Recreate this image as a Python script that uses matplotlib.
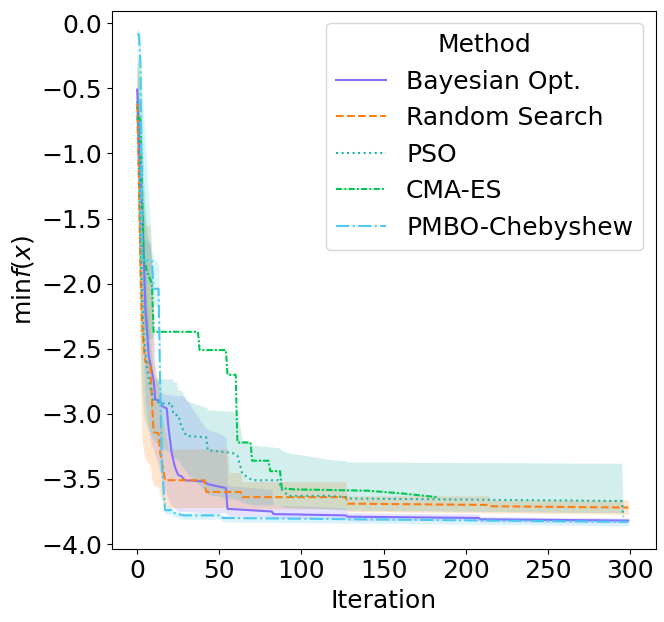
import matplotlib
matplotlib.use("Agg")
import matplotlib.pyplot as plt

# Values: iteration, mean best value and band edges
bo_iter = [0, 1, 2, 3, 4, 5, 6, 7, 8, 10, 11, 14, 15, 18, 19, 21, 23, 25, 27, 29,
           41, 43, 50, 54, 55, 82, 83, 127, 128, 208, 209, 299]
bo_mean = [-0.51, -0.85, -1.15, -1.45, -1.77, -2.20, -2.35, -2.55, -2.62, -2.74,
           -2.89, -2.90, -2.94, -2.96, -3.10, -3.30, -3.41, -3.47, -3.48, -3.51,
           -3.52, -3.54, -3.56, -3.57, -3.73, -3.75, -3.77, -3.78, -3.79, -3.80,
           -3.81, -3.82]
bo_lo = [-0.60, -1.20, -1.70, -2.20, -2.60, -2.90, -3.00, -3.10, -3.20, -3.28,
         -3.32, -3.45, -3.50, -3.62, -3.66, -3.70, -3.73, -3.75, -3.75, -3.75,
         -3.76, -3.76, -3.76, -3.76, -3.78, -3.79, -3.80, -3.81, -3.82, -3.82,
         -3.83, -3.84]
bo_hi = [-0.35, -0.55, -0.80, -1.10, -1.40, -1.65, -1.67, -1.68, -1.70, -2.30,
         -2.70, -2.80, -2.84, -2.85, -2.85, -2.86, -2.86, -2.86, -2.86, -2.87,
         -3.10, -3.12, -3.15, -3.18, -3.55, -3.58, -3.70, -3.72, -3.76, -3.77,
         -3.79, -3.80]

rs_iter = [0, 1, 2, 3, 4, 5, 8, 9, 10, 13, 14, 17, 19, 41, 42, 55, 56, 63, 64,
           127, 128, 214, 215, 299]
rs_mean = [-0.62, -1.20, -1.90, -2.30, -2.50, -2.60, -2.62, -2.90, -3.14, -3.15,
           -3.30, -3.51, -3.51, -3.51, -3.60, -3.60, -3.60, -3.60, -3.64, -3.64,
           -3.69, -3.70, -3.71, -3.72]
rs_lo = [-0.75, -1.90, -2.80, -3.20, -3.30, -3.35, -3.40, -3.50, -3.55, -3.56,
         -3.62, -3.70, -3.72, -3.72, -3.72, -3.72, -3.72, -3.73, -3.73, -3.73,
         -3.75, -3.76, -3.76, -3.77]
rs_hi = [-0.25, -0.60, -1.00, -1.30, -1.45, -1.55, -1.55, -1.90, -2.60, -2.75,
         -2.95, -3.15, -3.27, -3.27, -3.27, -3.27, -3.45, -3.45, -3.52, -3.52,
         -3.63, -3.63, -3.66, -3.66]

ps_iter = [0, 1, 2, 3, 4, 6, 8, 10, 14, 21, 22, 24, 25, 27, 30, 42, 43, 58, 61,
           64, 70, 86, 88, 92, 117, 127, 128, 295, 296]
ps_mean = [-0.60, -1.10, -1.70, -2.10, -2.40, -2.65, -2.80, -2.89, -2.92, -2.92,
           -3.00, -3.01, -3.01, -3.10, -3.17, -3.18, -3.28, -3.30, -3.32, -3.46,
           -3.51, -3.51, -3.58, -3.63, -3.63, -3.64, -3.65, -3.67, -3.79]
ps_lo = [-0.80, -1.80, -2.50, -2.80, -3.00, -3.10, -3.15, -3.20, -3.25, -3.30,
         -3.33, -3.35, -3.35, -3.40, -3.45, -3.60, -3.62, -3.65, -3.66, -3.68,
         -3.70, -3.70, -3.71, -3.72, -3.73, -3.74, -3.74, -3.76, -3.80]
ps_hi = [-0.15, -0.40, -0.90, -1.40, -1.80, -2.10, -2.45, -2.73, -2.73, -2.73,
         -2.75, -2.76, -2.82, -2.82, -2.90, -2.95, -2.97, -2.98, -3.00, -3.20,
         -3.24, -3.26, -3.28, -3.30, -3.35, -3.36, -3.37, -3.38, -3.78]

cm_iter = [0, 2, 3, 4, 5, 6, 9, 10, 37, 38, 54, 55, 60, 61, 69, 70, 80, 81, 87,
           88, 95, 140, 160, 183]
cm_mean = [-0.72, -0.74, -1.30, -1.82, -1.85, -1.91, -2.00, -2.37, -2.37, -2.51,
           -2.51, -2.70, -2.70, -3.22, -3.22, -3.36, -3.36, -3.44, -3.44, -3.57,
           -3.58, -3.59, -3.61, -3.64]
cm_lo = [-0.90, -1.20, -2.00, -2.35, -2.40, -2.42, -2.42, -2.375, -2.375, -2.515,
         -2.515, -2.705, -2.705, -3.225, -3.225, -3.365, -3.365, -3.445, -3.445,
         -3.575, -3.585, -3.595, -3.615, -3.645]
cm_hi = [-0.25, -0.35, -0.70, -1.20, -1.40, -1.60, -1.80, -2.365, -2.365, -2.505,
         -2.505, -2.695, -2.695, -3.215, -3.215, -3.355, -3.355, -3.435, -3.435,
         -3.565, -3.575, -3.585, -3.605, -3.635]

pm_iter = [0, 1, 2, 3, 9, 10, 13, 14, 15, 17, 21, 22, 28, 51, 52, 299]
pm_mean = [-0.085, -0.085, -0.32, -1.82, -1.82, -2.04, -2.04, -2.80, -3.40,
           -3.74, -3.74, -3.76, -3.78, -3.78, -3.80, -3.83]
pm_lo = [-0.15, -0.20, -0.60, -2.00, -2.00, -2.15, -2.20, -3.20, -3.65, -3.77,
         -3.77, -3.79, -3.81, -3.81, -3.83, -3.86]
pm_hi = [-0.05, -0.05, -0.10, -0.50, -1.75, -1.80, -1.85, -2.40, -3.00, -3.70,
         -3.72, -3.74, -3.76, -3.76, -3.78, -3.81]

methods = ["Bayesian Opt.", "Random Search", "PSO", "CMA-ES", "PMBO-Chebyshew"]
colors = ["#8470ff", "#ff7f0e", "#20b2aa", "#00c853", "#4cc9f0"]
styles = ["-", "--", ":", (0, (3, 1, 1, 1)), "-."]

series = [
    (bo_iter, bo_mean, bo_lo, bo_hi),
    (rs_iter, rs_mean, rs_lo, rs_hi),
    (ps_iter, ps_mean, ps_lo, ps_hi),
    (cm_iter, cm_mean, cm_lo, cm_hi),
    (pm_iter, pm_mean, pm_lo, pm_hi),
]

fig, ax = plt.subplots(figsize=(6.64, 6.22), dpi=100)
fig.subplots_adjust(left=0.169, right=0.9875, top=0.983, bottom=0.117)

for name, col, ls, (it, mean, lo, hi) in zip(methods, colors, styles, series):
    ax.fill_between(it, lo, hi, color=col, alpha=0.2, linewidth=0)
    ax.plot(it, mean, color=col, linestyle=ls, linewidth=1.5, label=name)

ax.set_xlim(-15.2, 315.7)
ax.set_ylim(-4.04, 0.097)
ax.set_xticks([0, 50, 100, 150, 200, 250, 300])
ax.set_yticks([0.0, -0.5, -1.0, -1.5, -2.0, -2.5, -3.0, -3.5, -4.0])
ax.tick_params(labelsize=18)
ax.set_xlabel("Iteration", fontsize=18)
ax.set_ylabel(r"$\min f(x)$", fontsize=18)
ax.legend(title="Method", fontsize=18, title_fontsize=18, loc="upper right")

fig.savefig("out.png", dpi=100)
